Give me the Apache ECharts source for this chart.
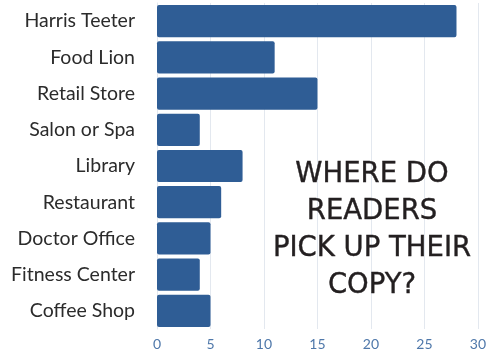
<!DOCTYPE html>
<html>
<head>
<meta charset="utf-8">
<script src="https://cdn.jsdelivr.net/npm/echarts@6/dist/echarts.min.js"></script>
<style>
  html, body { margin: 0; padding: 0; background: #fff; }
  #main { width: 489px; height: 351px; }
</style>
</head>
<body>
<div id="main"></div>
<script>
// 取书地点 (top to bottom as shown)
var places = ['Harris Teeter', 'Food Lion', 'Retail Store', 'Salon or Spa', 'Library',
  'Restaurant', 'Doctor Office', 'Fitness Center', 'Coffee Shop'];
var counts = [28, 11, 15, 4, 8, 6, 5, 4, 5];
var xTicks = [0, 5, 10, 15, 20, 25, 30];
var titleLines = ['WHERE DO', 'READERS', 'PICK UP THEIR', 'COPY?'];

var chart = echarts.init(document.getElementById('main'));

var option = {
  animation: false,
  grid: { left: 157, right: 8, top: 3, bottom: 22 },
  title: {
    text: titleLines.join('\n'),
    left: 367,
    top: 152,
    textAlign: 'center',
    textStyle: {
      fontFamily: 'DejaVu Sans',
      fontWeight: 'normal',
      fontSize: 27.5,
      lineHeight: 36.7,
      color: '#231f20',
      textBorderColor: '#231f20',
      textBorderWidth: 0.4
    }
  },
  xAxis: {
    type: 'value',
    min: xTicks[0],
    max: xTicks[xTicks.length - 1],
    interval: 5,
    axisLine: { show: false },
    axisTick: { show: false },
    splitLine: { lineStyle: { color: '#e3e8ef', width: 1 } },
    axisLabel: { color: '#4f78aa', fontSize: 14, fontFamily: 'Lato', margin: 8 }
  },
  yAxis: {
    type: 'category',
    inverse: true,
    data: places,
    axisLine: { show: true, lineStyle: { color: '#e3e8ef' } },
    axisTick: { show: false },
    axisLabel: { color: '#2b2b2b', fontSize: 19.5, fontFamily: 'Lato', margin: 22 }
  },
  series: [{
    type: 'bar',
    data: counts,
    barCategoryGap: '11%',
    itemStyle: { color: '#2f5d95', borderRadius: 2 }
  }]
};

chart.setOption(option);
</script>
</body>
</html>
